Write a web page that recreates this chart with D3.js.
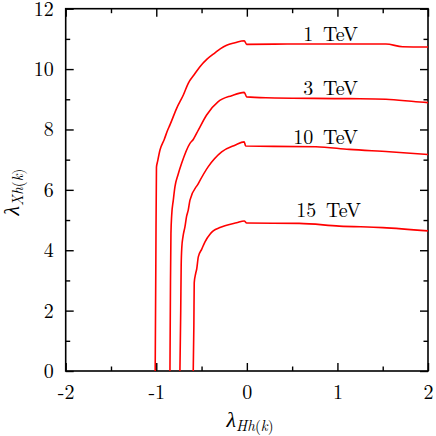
<!DOCTYPE html>
<html><head><meta charset="utf-8">
<script src="https://cdn.jsdelivr.net/npm/d3@7"></script>
<style>
body{margin:0;background:#fff;}
</style></head>
<body><svg id="c" width="436" height="436"></svg>
<script>
// ---- data ----
const seriesNames = ["1 TeV", "3 TeV", "10 TeV", "15 TeV"];
const x1 = [-1.012,-1.005,-0.998,-0.985,-0.959,-0.912,-0.874,-0.849,-0.775,-0.700,-0.647,-0.580,-0.518,-0.440,-0.352,-0.290,-0.223,-0.131,-0.029,-0.002,0.5,1.0,1.535,1.72,2.0];
const y1 = [0,3.5,6.75,6.95,7.32,7.67,7.98,8.15,8.70,9.15,9.53,9.82,10.08,10.33,10.54,10.68,10.79,10.87,10.94,10.82,10.83,10.83,10.83,10.74,10.73];
const x2 = [-0.849,-0.843,-0.838,-0.830,-0.812,-0.794,-0.760,-0.720,-0.628,-0.592,-0.536,-0.444,-0.316,-0.168,-0.029,-0.002,0.21,1.13,1.535,1.866,2.0];
const y2 = [0,3.0,4.56,5.15,5.66,6.10,6.50,6.88,7.54,7.67,7.98,8.48,8.92,9.12,9.23,9.08,9.05,9.02,9.0,8.92,8.89];
const x3 = [-0.739,-0.730,-0.725,-0.718,-0.705,-0.683,-0.665,-0.647,-0.628,-0.536,-0.426,-0.278,-0.131,-0.029,-0.013,0.763,1.13,1.572,2.0];
const y3 = [0,2.0,3.5,4.1,4.45,4.78,5.13,5.33,5.66,6.21,6.77,7.26,7.48,7.59,7.45,7.43,7.34,7.26,7.17];
const x4 = [-0.592,-0.585,-0.581,-0.565,-0.554,-0.536,-0.499,-0.462,-0.407,-0.371,-0.297,-0.242,-0.113,-0.029,-0.002,0.578,1.02,1.50,2.0];
const y4 = [0,1.5,2.92,3.23,3.37,3.78,4.03,4.28,4.53,4.64,4.75,4.81,4.91,4.97,4.90,4.89,4.80,4.75,4.64];
const labelPos = [[1.0, 10.83], [1.0, 9.03], [1.0, 7.41], [1.0, 5.0]];
const xTicks = [-2,-1,0,1,2];
const xMinor = [-1.5,-0.5,0.5,1.5];
const yTicks = [0,2,4,6,8,10,12];
const yMinor = [1,3,5,7,9,11];

// ---- layout ----
const FONT = "'Latin Modern Roman', 'Liberation Serif', serif";
const svg = d3.select("#c");
const L = 65.7, R = 428, T = 8.7, B = 371;
const x = d3.scaleLinear().domain([-2,2]).range([L,R]);
const y = d3.scaleLinear().domain([0,12]).range([B,T]);
const fs = 20;
const fmt = d => String(d).replace("−","-");

function axisGroup(axis, tx, ty){
  const g = svg.append("g").attr("transform",`translate(${tx},${ty})`).call(axis);
  g.attr("font-family", null).attr("font-size", null);
  g.select(".domain").remove();
  g.selectAll(".tick line").attr("stroke","#000").attr("stroke-width",1.4);
  g.selectAll("text").style("font-family",FONT).style("font-size",fs+"px").attr("fill","#000");
  return g;
}
// major
axisGroup(d3.axisBottom(x).tickValues(xTicks).tickSize(-8).tickPadding(13.5).tickFormat(fmt),0,B);
axisGroup(d3.axisLeft(y).tickValues(yTicks).tickSize(-8).tickPadding(12).tickFormat(fmt),L,0);
axisGroup(d3.axisTop(x).tickValues(xTicks).tickSize(-8).tickFormat(""),0,T);
axisGroup(d3.axisRight(y).tickValues(yTicks).tickSize(-8).tickFormat(""),R,0);
// minor
axisGroup(d3.axisBottom(x).tickValues(xMinor).tickSize(-4.5).tickFormat(""),0,B);
axisGroup(d3.axisLeft(y).tickValues(yMinor).tickSize(-4.5).tickFormat(""),L,0);
axisGroup(d3.axisTop(x).tickValues(xMinor).tickSize(-4.5).tickFormat(""),0,T);
axisGroup(d3.axisRight(y).tickValues(yMinor).tickSize(-4.5).tickFormat(""),R,0);

// frame
svg.append("rect").attr("x",L).attr("y",T).attr("width",R-L).attr("height",B-T)
  .attr("fill","none").attr("stroke","#000").attr("stroke-width",1.6);

// curves
const line = d3.line().x(d=>x(d[0])).y(d=>y(d[1])).curve(d3.curveMonotoneX);
const series = [[x1,y1],[x2,y2],[x3,y3],[x4,y4]].map(([xs,ys])=>xs.map((v,i)=>[v,ys[i]]));
svg.append("g").selectAll("path").data(series).join("path")
  .attr("d",line).attr("fill","none").attr("stroke","#ff0000").attr("stroke-width",1.6)
  .attr("stroke-linejoin","round");

// series labels (right-aligned)
const labelRight = [358, 358, 358, 361];
seriesNames.forEach((n,i)=>{
  svg.append("text").attr("x", labelRight[i]).attr("y", y(labelPos[i][1]) - 3)
    .attr("text-anchor","end").style("font-family",FONT).style("font-size",fs+"px")
    .style("word-spacing","3px").text(n);
});

// axis titles
function title(sel, sub){
  sel.style("font-family",FONT).style("font-size","22px").attr("text-anchor","middle");
  sel.append("tspan").style("font-style","italic").text("λ");
  sel.append("tspan").attr("dy",4).style("font-size","15px").style("font-style","italic").text(sub);
  sel.append("tspan").style("font-size","15px").text("(");
  sel.append("tspan").style("font-size","15px").style("font-style","italic").text("k");
  sel.append("tspan").style("font-size","15px").text(")");
}
title(svg.append("text").attr("x",250).attr("y",427), "Hh");
title(svg.append("text").attr("transform","translate(18.5,192) rotate(-90)"), "Xh");
</script></body></html>
